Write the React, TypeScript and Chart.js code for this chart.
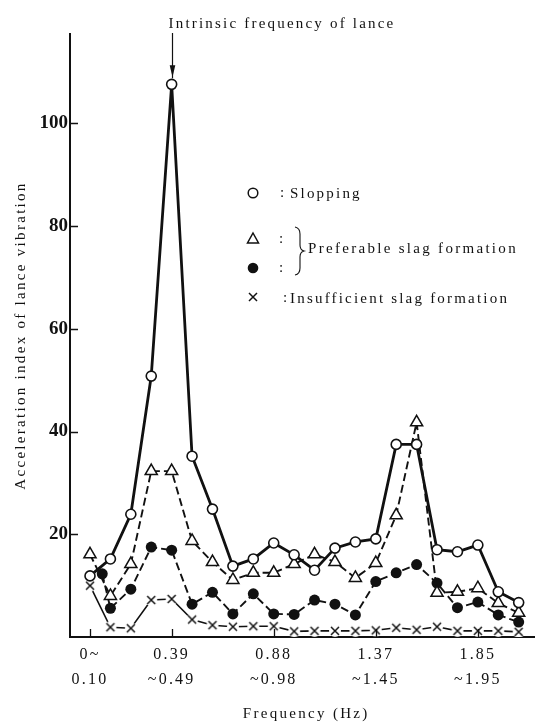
import { useEffect, useRef } from "react";
import { Chart, registerables } from "chart.js";

Chart.register(...registerables);

// Frequency band index: 0 = 0~0.10 Hz, 4 = 0.39~0.49 Hz, ... 21 = last band
const bandIndex = [0, 1, 2, 3, 4, 5, 6, 7, 8, 9, 10, 11, 12, 13, 14, 15, 16, 17, 18, 19, 20, 21];

// Acceleration index of lance vibration per band
const slopping = [11.9, 15.2, 23.9, 50.8, 107.6, 35.2, 24.9, 13.8, 15.2, 18.3, 16.0, 13.0, 17.3, 18.5, 19.1, 37.5, 37.5, 17.0, 16.6, 17.9, 8.8, 6.7];
const preferableOpen = [16.1, 8.0, 14.2, 32.3, 32.3, 18.7, 14.6, 11.1, 12.5, 12.5, 14.2, 16.1, 14.6, 11.5, 14.4, 23.7, 41.8, 8.6, 8.8, 9.5, 6.6, 4.7];
const preferableFilledBand = [0.6, 1, 2, 3, 4, 5, 6, 7, 8, 9, 10, 11, 12, 13, 14, 15, 16, 17, 18, 19, 20, 21];
const preferableFilled = [12.3, 5.6, 9.3, 17.5, 16.9, 6.4, 8.7, 4.5, 8.4, 4.5, 4.4, 7.2, 6.4, 4.3, 10.8, 12.5, 14.1, 10.5, 5.7, 6.8, 4.3, 2.9];
const insufficient = [10.0, 1.9, 1.7, 7.2, 7.4, 3.4, 2.3, 2.0, 2.1, 2.1, 1.1, 1.2, 1.2, 1.2, 1.3, 1.8, 1.4, 2.0, 1.2, 1.2, 1.2, 1.0];

// Axis ticks
const tickBands = [0, 4, 9, 14, 19];
const tickUpper = ["0~", "0.39", "0.88", "1.37", "1.85"];
const tickLower = ["0.10", "~0.49", "~0.98", "~1.45", "~1.95"];
const yTickValues = [20, 40, 60, 80, 100];

const INK = "#111";
const SERIF = '"Liberation Serif", "Times New Roman", serif';

function pair(xs: number[], ys: number[]) {
  return ys.map((v, i) => ({ x: xs[i], y: v }));
}

// × marker with a small white halo so the connecting line stops short of it
function makeCrossMarker(): HTMLCanvasElement {
  const c = document.createElement("canvas");
  c.width = 14;
  c.height = 14;
  const g = c.getContext("2d")!;
  g.fillStyle = "#fff";
  g.beginPath();
  g.arc(7, 7, 6, 0, Math.PI * 2);
  g.fill();
  g.strokeStyle = INK;
  g.lineWidth = 1.5;
  g.beginPath();
  g.moveTo(3, 3);
  g.lineTo(11, 11);
  g.moveTo(11, 3);
  g.lineTo(3, 11);
  g.stroke();
  return c;
}

function spacedText(ctx: CanvasRenderingContext2D, text: string, x: number, y: number, spacing: number) {
  (ctx as any).letterSpacing = spacing + "px";
  ctx.fillText(text, x, y);
  (ctx as any).letterSpacing = "0px";
}

const decorations = {
  id: "decorations",
  beforeDraw(chart: any) {
    const { ctx, width, height } = chart;
    ctx.save();
    ctx.fillStyle = "#fff";
    ctx.fillRect(0, 0, width, height);
    ctx.restore();
  },
  afterDraw(chart: any) {
    const { ctx, chartArea } = chart;
    const xs = chart.scales.x;
    const ys = chart.scales.y;
    ctx.save();
    ctx.strokeStyle = INK;
    ctx.fillStyle = INK;

    // inward tick marks
    ctx.lineWidth = 1.3;
    ctx.beginPath();
    ys.ticks.forEach((t: any) => {
      const py = Math.round(ys.getPixelForValue(t.value)) + 0.5;
      ctx.moveTo(chartArea.left, py);
      ctx.lineTo(chartArea.left + 8, py);
    });
    xs.ticks.forEach((t: any) => {
      const px = Math.round(xs.getPixelForValue(t.value)) + 0.5;
      ctx.moveTo(px, chartArea.bottom);
      ctx.lineTo(px, chartArea.bottom - 8);
    });
    ctx.stroke();

    // two-line frequency band labels
    ctx.font = "16px " + SERIF;
    ctx.textAlign = "center";
    ctx.textBaseline = "alphabetic";
    tickBands.forEach((b, i) => {
      const px = xs.getPixelForValue(b);
      spacedText(ctx, tickUpper[i], px, chartArea.bottom + 22, 2.2);
      spacedText(ctx, tickLower[i], px, chartArea.bottom + 47, 2.2);
    });

    // axis titles
    ctx.font = "15px " + SERIF;
    ctx.textAlign = "center";
    spacedText(ctx, "Frequency (Hz)", (chartArea.left + chartArea.right) / 2 + 4, 718, 2.3);
    ctx.save();
    ctx.translate(25, (chartArea.top + chartArea.bottom) / 2);
    ctx.rotate(-Math.PI / 2);
    spacedText(ctx, "Acceleration index of lance vibration", 0, 0, 2.3);
    ctx.restore();

    // intrinsic frequency marker above the tallest point
    const peak = Math.max(...slopping);
    const peakBand = bandIndex[slopping.indexOf(peak)];
    const ax = Math.round(xs.getPixelForValue(peakBand)) + 0.5;
    const ay = ys.getPixelForValue(peak);
    ctx.textAlign = "left";
    spacedText(ctx, "Intrinsic frequency of lance", ax - 4, 28, 2.2);
    ctx.lineWidth = 1.2;
    ctx.beginPath();
    ctx.moveTo(ax, 33);
    ctx.lineTo(ax, ay - 6);
    ctx.stroke();
    ctx.beginPath();
    ctx.moveTo(ax - 2.8, ay - 19);
    ctx.lineTo(ax + 2.8, ay - 19);
    ctx.lineTo(ax, ay - 7);
    ctx.closePath();
    ctx.fill();

    // legend
    const mx = 253;
    ctx.lineWidth = 1.5;
    ctx.beginPath();
    ctx.arc(mx, 193, 4.8, 0, Math.PI * 2);
    ctx.fillStyle = "#fff";
    ctx.fill();
    ctx.stroke();
    ctx.fillStyle = INK;
    ctx.beginPath();
    ctx.moveTo(mx, 233);
    ctx.lineTo(mx + 5.5, 243);
    ctx.lineTo(mx - 5.5, 243);
    ctx.closePath();
    ctx.stroke();
    ctx.beginPath();
    ctx.arc(mx, 268, 5.3, 0, Math.PI * 2);
    ctx.fill();
    ctx.beginPath();
    ctx.moveTo(mx - 4, 293);
    ctx.lineTo(mx + 4, 301);
    ctx.moveTo(mx + 4, 293);
    ctx.lineTo(mx - 4, 301);
    ctx.stroke();

    ctx.font = "15px " + SERIF;
    ctx.textBaseline = "middle";
    ctx.textAlign = "left";
    spacedText(ctx, ":", 280, 193, 0);
    spacedText(ctx, "Slopping", 290, 194, 2.2);
    spacedText(ctx, ":", 279, 239, 0);
    spacedText(ctx, ":", 279, 268, 0);
    spacedText(ctx, "Preferable slag formation", 308, 249, 2.3);
    spacedText(ctx, ":", 283, 298, 0);
    spacedText(ctx, "Insufficient slag formation", 290, 299, 2.2);

    // brace grouping the two preferable symbols
    ctx.lineWidth = 1.1;
    ctx.beginPath();
    ctx.moveTo(295, 227);
    ctx.quadraticCurveTo(300, 228, 300, 234);
    ctx.lineTo(300, 245);
    ctx.quadraticCurveTo(300, 250, 304, 251);
    ctx.quadraticCurveTo(300, 252, 300, 257);
    ctx.lineTo(300, 268);
    ctx.quadraticCurveTo(300, 274, 295, 275);
    ctx.stroke();

    ctx.restore();
  },
};

export default function App() {
  const canvasRef = useRef<HTMLCanvasElement | null>(null);

  useEffect(() => {
    const canvas = canvasRef.current;
    if (!canvas) return;
    const cross = makeCrossMarker();

    const chart = new Chart(canvas, {
      type: "line",
      data: {
        datasets: [
          {
            label: "Slopping",
            data: pair(bandIndex, slopping),
            borderColor: INK,
            borderWidth: 2.8,
            pointStyle: "circle",
            pointRadius: 5,
            pointBorderWidth: 1.6,
            pointBackgroundColor: "#fff",
            pointBorderColor: INK,
            tension: 0,
          },
          {
            label: "Preferable slag formation (open)",
            data: pair(bandIndex, preferableOpen),
            borderColor: INK,
            borderWidth: 1.9,
            borderDash: [8, 4],
            pointStyle: "triangle",
            pointRadius: 7,
            pointBorderWidth: 1.5,
            pointBackgroundColor: "#fff",
            pointBorderColor: INK,
            tension: 0,
          },
          {
            label: "Preferable slag formation (filled)",
            data: pair(preferableFilledBand, preferableFilled),
            borderColor: INK,
            borderWidth: 1.9,
            borderDash: [8, 4],
            pointStyle: "circle",
            pointRadius: 5.5,
            pointBorderWidth: 0,
            pointBackgroundColor: INK,
            tension: 0,
          },
          {
            label: "Insufficient slag formation",
            data: pair(bandIndex, insufficient),
            borderColor: INK,
            borderWidth: 1.6,
            pointStyle: cross,
            pointRadius: 7,
            tension: 0,
          },
        ],
      },
      options: {
        animation: false,
        responsive: false,
        devicePixelRatio: 1,
        layout: { padding: { left: 0, right: 8, top: 34, bottom: 0 } },
        plugins: {
          legend: { display: false },
          tooltip: { enabled: false },
          title: { display: false },
        },
        scales: {
          x: {
            type: "linear",
            min: -0.98,
            max: 21.77,
            grid: { display: false, drawTicks: false },
            border: { display: true, color: INK, width: 2 },
            ticks: { display: false },
            afterBuildTicks: (scale: any) => {
              scale.ticks = tickBands.map((v) => ({ value: v }));
            },
            afterFit: (scale: any) => {
              scale.height = 85;
              scale.paddingLeft = 0;
              scale.paddingRight = 0;
            },
          },
          y: {
            type: "linear",
            min: 0,
            max: 117.4,
            grid: { display: false, drawTicks: false },
            border: { display: true, color: INK, width: 2 },
            ticks: {
              color: INK,
              padding: 2,
              font: { family: SERIF, size: 19, weight: "bold" },
              callback: (v: any) => String(v),
            },
            afterBuildTicks: (scale: any) => {
              scale.ticks = yTickValues.map((v) => ({ value: v }));
            },
            afterFit: (scale: any) => {
              scale.width = 70;
              scale.paddingTop = 0;
              scale.paddingBottom = 0;
            },
          },
        },
      },
      plugins: [decorations],
    } as any);

    return () => chart.destroy();
  }, []);

  return (
    <div style={{ position: "absolute", left: 0, top: 0, width: 543, height: 722, background: "#fff" }}>
      <canvas ref={canvasRef} width={543} height={722} style={{ display: "block" }} />
    </div>
  );
}
